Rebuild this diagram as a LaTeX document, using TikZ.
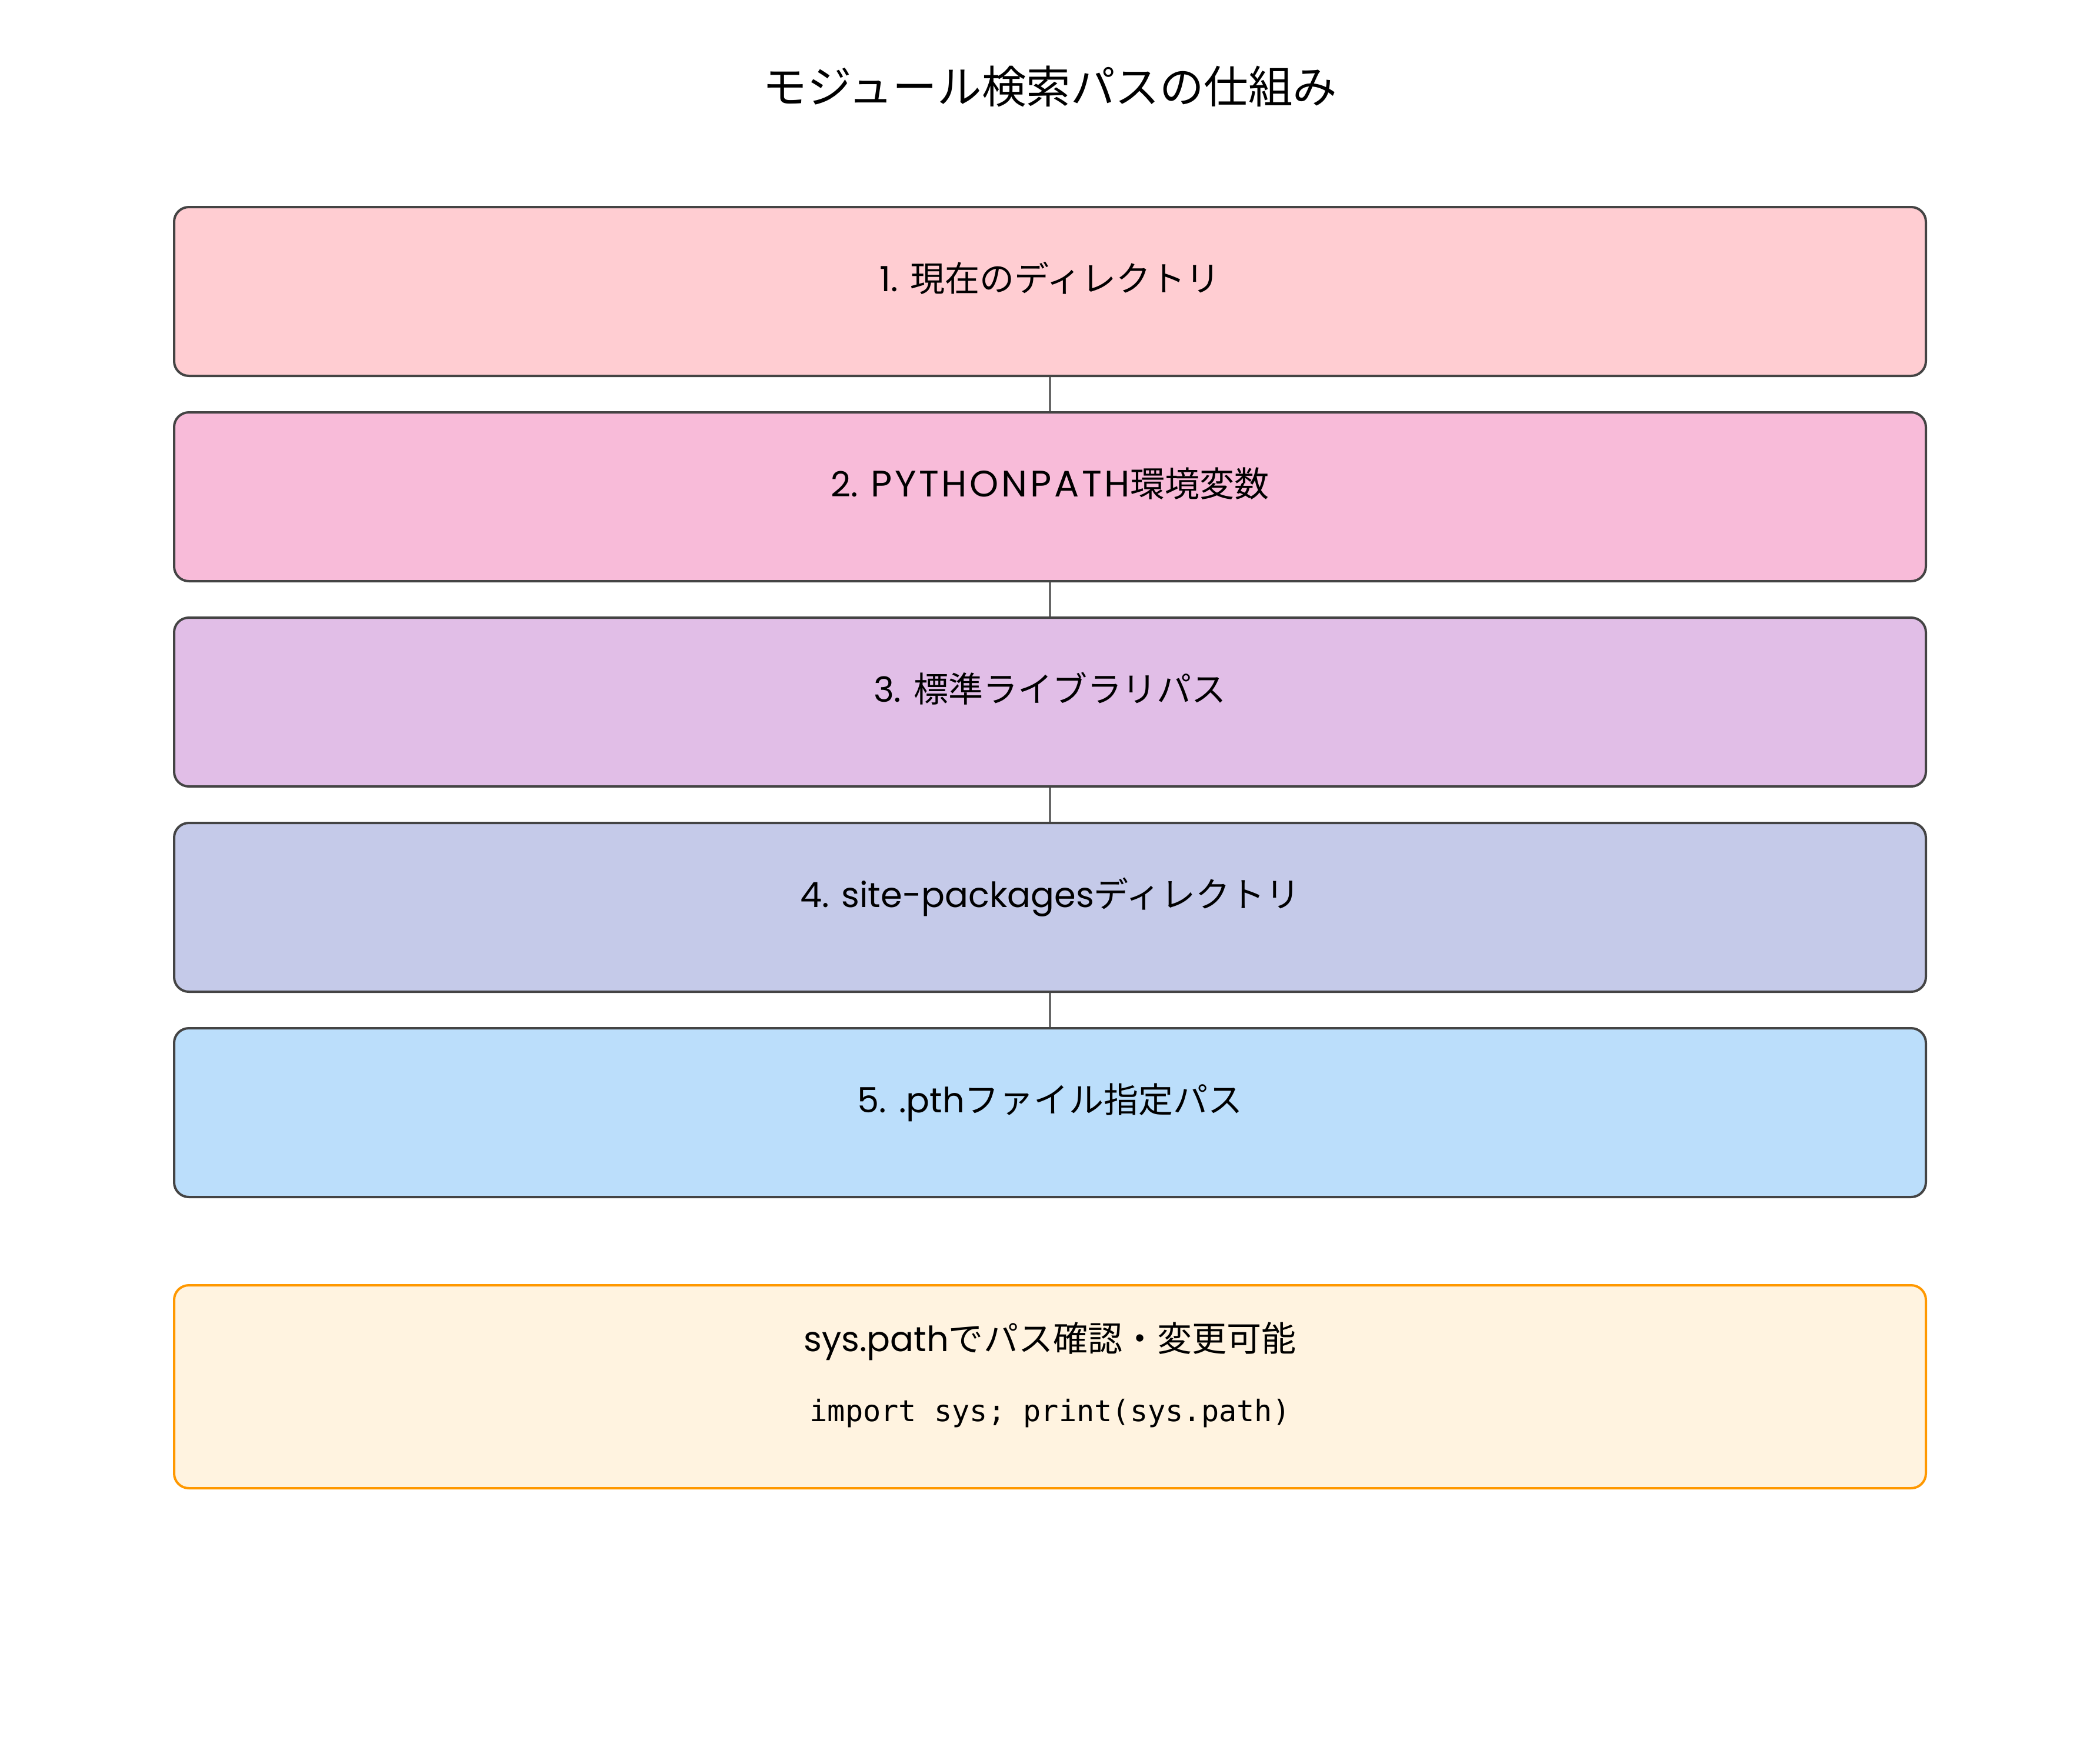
\documentclass[tikz,border=0pt]{standalone}
\usepackage{fontspec}
\setmainfont{Poppins}
\setmonofont{DejaVu Sans Mono}
\newfontfamily\jpfont{Noto Sans CJK JP}
\newfontfamily\capsfont[Scale=1.06,LetterSpace=7.5]{Poppins}
\usepackage{xcolor}
\usetikzlibrary{positioning}

\definecolor{lineGray}{HTML}{444444}
\definecolor{linkGray}{HTML}{666666}
\definecolor{dirFill}{HTML}{FFCDD2}
\definecolor{envFill}{HTML}{F8BBD9}
\definecolor{libFill}{HTML}{E1BEE7}
\definecolor{siteFill}{HTML}{C5CAE9}
\definecolor{pthFill}{HTML}{BBDEFB}
\definecolor{noteFill}{HTML}{FFF3E0}
\definecolor{noteLine}{HTML}{FF9800}

\begin{document}
\begin{tikzpicture}[
    pathbox/.style={draw=lineGray, line width=0.04cm, rounded corners=0.25cm,
        minimum width=29.78cm, minimum height=2.87cm, text height=0.4cm, text depth=0.4cm,
        font=\fontsize{16.8pt}{20pt}\selectfont},
    link/.style={draw=linkGray, line width=0.035cm}]
    \useasboundingbox (0,0) rectangle (35.7,-29.7);
    %\draw[help lines] (0,0) grid (35.7,-29.7);
    \node (title) at (17.85,-1.47) {\fontsize{21.5pt}{25pt}\selectfont\jpfont モジュール検索パスの仕組み};

    \node[pathbox, fill=dirFill] (dir) at (17.85,-4.955) {1. {\jpfont 現在のディレクトリ}};
    \node[pathbox, fill=envFill, below=0.58cm of dir] (env) {2. {\capsfont PYTHONPATH}{\jpfont 環境変数}};
    \node[pathbox, fill=libFill, below=0.58cm of env] (lib) {3. {\jpfont 標準ライブラリパス}};
    \node[pathbox, fill=siteFill, below=0.58cm of lib] (site) {4. site-packages{\jpfont ディレクトリ}};
    \node[pathbox, fill=pthFill, below=0.58cm of site] (pth) {5. .pth{\jpfont ファイル指定パス}};

    \draw[link] (dir.south) -- (env.north);
    \draw[link] (env.south) -- (lib.north);
    \draw[link] (lib.south) -- (site.north);
    \draw[link] (site.south) -- (pth.north);

    % note box
    \node[draw=noteLine, fill=noteFill, line width=0.04cm, rounded corners=0.25cm,
        minimum width=29.78cm, minimum height=3.45cm] (note) at (17.85,-23.575) {};
    \node[font=\fontsize{16.8pt}{20pt}\selectfont] (notetext) at ([yshift=0.77cm]note.center) {sys.path{\jpfont でパス確認・変更可能}};
    \node[font=\fontsize{14.3pt}{17pt}\ttfamily] (notecode) at ([yshift=-0.45cm]note.center) {import sys; print(sys.path)};
\end{tikzpicture}
\end{document}
